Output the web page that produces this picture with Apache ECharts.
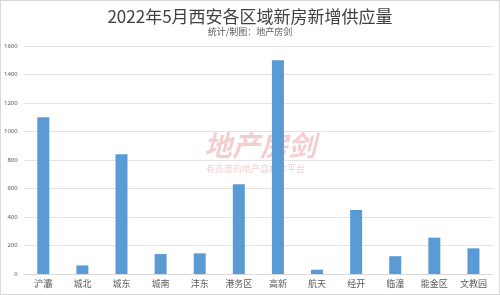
<!DOCTYPE html>
<html><head><meta charset="utf-8">
<script src="https://cdn.jsdelivr.net/npm/echarts@6/dist/echarts.min.js"></script>
<style>html,body{margin:0;padding:0;background:#fff}#c{width:500px;height:295px;box-sizing:border-box;border:1px solid #d9d9d9}</style>
</head><body><div id="c"></div>
<script>
const titleText = '2022年5月西安各区域新房新增供应量';
const subtitleText = '统计/制图：地产房剑';
const categories = ['浐灞','城北','城东','城南','沣东','港务区','高新','航天','经开','临潼','能金区','文教园'];
const supply = [1100, 60, 840, 140, 145, 630, 1500, 30, 450, 125, 255, 180];
const yTicks = [0, 200, 400, 600, 800, 1000, 1200, 1400, 1600];

const chart = echarts.init(document.getElementById('c'));
chart.setOption({
  animation: false,
  backgroundColor: '#fff',
  title: {
    text: titleText, subtext: subtitleText, left: 'center', top: 2, itemGap: 2,
    textStyle: {fontFamily: 'Noto Sans CJK SC', fontSize: 17, fontWeight: 'normal', color: '#404040'},
    subtextStyle: {fontFamily: 'Noto Sans CJK SC', fontSize: 9, color: '#595959'}
  },
  graphic: [
    {type: 'text', left: 203, top: 130, z: 0, style: {text: '地产房剑', font: 'italic bold 28px "Noto Sans CJK SC"', fill: 'rgba(220,90,90,0.3)'}},
    {type: 'text', left: 205, top: 163, z: 0, style: {text: '有态度的地产自媒体平台', font: '9px "Noto Sans CJK SC"', fill: 'rgba(220,90,90,0.3)'}}
  ],
  grid: {left: 19, right: 6, top: 45, bottom: 20, containLabel: false},
  xAxis: {
    type: 'category', data: categories,
    axisLine: {lineStyle: {color: '#d9d9d9'}}, axisTick: {show: false},
    axisLabel: {fontFamily: 'Noto Sans CJK SC', fontSize: 9, color: '#595959', margin: 5, interval: 0}
  },
  yAxis: {
    type: 'value', min: yTicks[0], max: yTicks[yTicks.length - 1], interval: 200,
    axisLine: {show: false}, axisTick: {show: false},
    axisLabel: {fontFamily: 'Noto Sans', fontSize: 6, color: '#595959', margin: 6, formatter: v => String(v)},
    splitLine: {lineStyle: {color: '#e3e3e3'}}
  },
  series: [{
    type: 'bar', data: supply, barWidth: 12, z: 2,
    itemStyle: {color: '#5B9BD5'}
  }]
});
</script></body></html>
